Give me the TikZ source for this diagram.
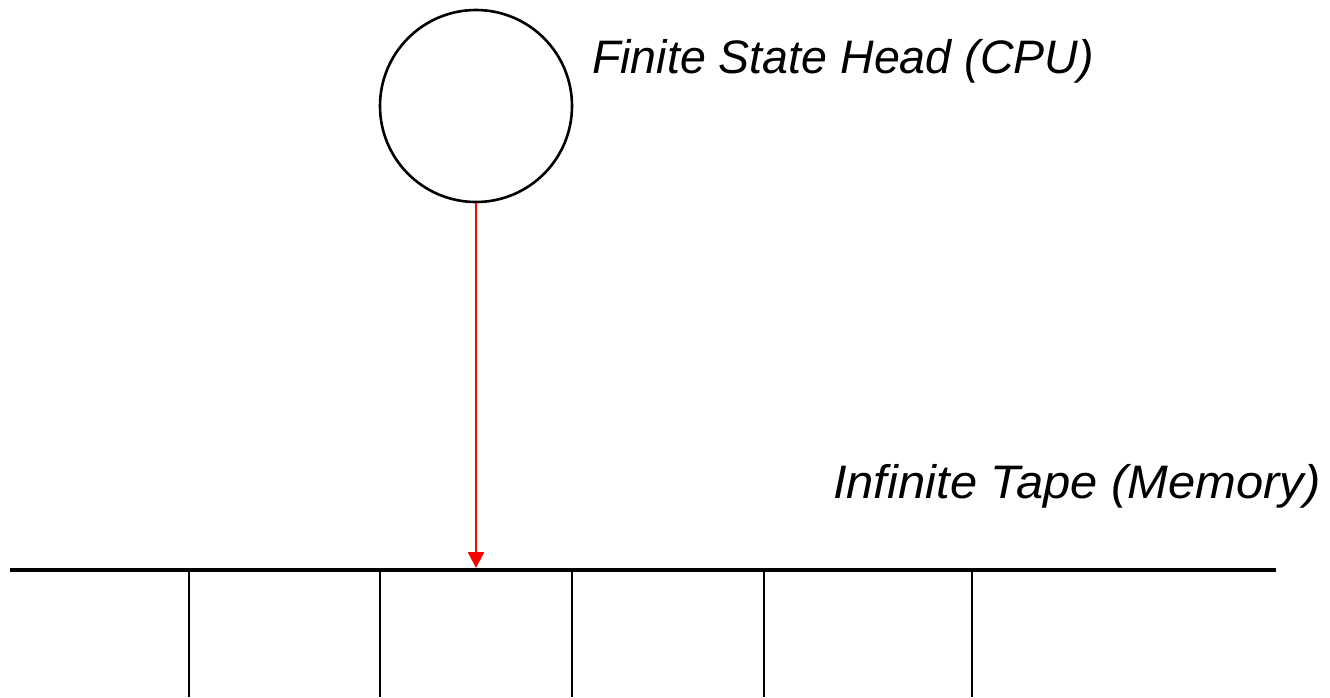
\documentclass[tikz,border=0pt]{standalone}
\usepackage{fontspec}
\setmainfont{Liberation Sans}
\usetikzlibrary{arrows.meta}
\begin{document}
\begin{tikzpicture}[x=1pt,y=-1pt,
  headcircle/.style={draw=black,line width=2.6pt,circle,minimum size=192pt,inner sep=0pt},
  label/.style={inner sep=0pt,font=\fontsize{47pt}{54pt}\selectfont\itshape},
  tapeline/.style={line width=4.2pt,black},
  cellline/.style={line width=2.2pt,black},
  headarrow/.style={draw=red,line width=2.4pt,-{Triangle[length=16pt,width=16pt]}}]
\useasboundingbox (0,0) rectangle (1330,697);
\node[headcircle] (head) at (476,106) {};
\node[label,anchor=base west] (headlabel) at (592,73) {\scalebox{0.99}[1]{Finite State Head (CPU)}};
\node[label,anchor=base west] (tapelabel) at (833,498) {\scalebox{1.04}[1]{Infinite Tape (Memory)}};
\coordinate (tl) at (10,570);
\coordinate (tr) at (1276,570);
\coordinate (hit) at (476,568);
\draw[tapeline] (tl) -- (tr);
\foreach \x/\n in {189/a,380/b,572/c,764/d,972/e}{
  \coordinate (top\n) at (\x,571);
  \coordinate (bot\n) at (\x,697);
  \draw[cellline] (top\n) -- (bot\n);
}
\draw[headarrow] (head.south) -- (hit);
\end{tikzpicture}
\end{document}
